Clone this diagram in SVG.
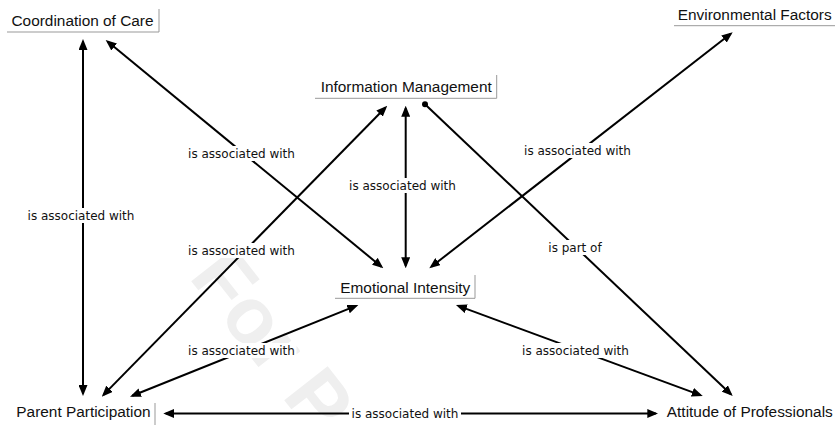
<svg xmlns="http://www.w3.org/2000/svg" width="835" height="425" viewBox="0 0 835 425">
<style>
.node text{font-family:"Liberation Sans",Arial,sans-serif;font-size:15.4px;fill:#111;text-anchor:middle}
.node path{fill:none;stroke:#999;stroke-width:1}
.edges line{stroke:#000;stroke-width:2;fill:none}
.lbl rect{fill:#fff}
.lbl text{font-family:"DejaVu Sans",Verdana,sans-serif;font-size:12px;fill:#111;text-anchor:middle}
.wm{font-family:"Liberation Sans",Arial,sans-serif;font-weight:bold;font-size:80px;fill:#efefef}
</style>
<defs>
<marker id="ah" viewBox="0 0 11 9" refX="8.5" refY="4.5" markerWidth="11" markerHeight="9" markerUnits="userSpaceOnUse" orient="auto-start-reverse"><path d="M0,0 L11,4.5 L0,9 z" fill="#000"/></marker>
<marker id="dot" viewBox="0 0 8 8" refX="4" refY="4" markerWidth="8" markerHeight="8" markerUnits="userSpaceOnUse"><circle cx="4" cy="4" r="3" fill="#000"/></marker>
</defs>
<rect width="835" height="425" fill="#fff"/>
<text class="wm" transform="translate(188,277) rotate(52)">For P</text>
<g class="edges">
<line x1="83" y1="41.5" x2="83" y2="393.5" marker-start="url(#ah)" marker-end="url(#ah)"/>
<line x1="405.7" y1="108.2" x2="405.7" y2="265.8" marker-start="url(#ah)" marker-end="url(#ah)"/>
<line x1="165.8" y1="413.5" x2="655.8" y2="413.5" marker-start="url(#ah)" marker-end="url(#ah)"/>
<line x1="107.6" y1="41.6" x2="381.4" y2="266.7" marker-start="url(#ah)" marker-end="url(#ah)"/>
<line x1="103.5" y1="394.9" x2="385.5" y2="107.5" marker-start="url(#ah)" marker-end="url(#ah)"/>
<line x1="132.3" y1="395.8" x2="356" y2="305.9" marker-start="url(#ah)" marker-end="url(#ah)"/>
<line x1="458.3" y1="305.9" x2="700.4" y2="395.1" marker-start="url(#ah)" marker-end="url(#ah)"/>
<line x1="425" y1="104.3" x2="730.9" y2="394.3" marker-start="url(#dot)" marker-end="url(#ah)"/>
<line x1="730.7" y1="33.8" x2="431.3" y2="266.8" marker-start="url(#ah)" marker-end="url(#ah)"/>
<g class="lbl">
<rect x="26" y="208" width="110" height="15"/><text x="81" y="219.5">is associated with</text>
<rect x="186.5" y="146" width="110" height="15"/><text x="241.5" y="157.5">is associated with</text>
<rect x="186.5" y="243" width="110" height="15"/><text x="241.5" y="254.5">is associated with</text>
<rect x="186.5" y="343" width="110" height="15"/><text x="241.5" y="354.5">is associated with</text>
<rect x="347.5" y="178" width="110" height="15"/><text x="402.5" y="189.5">is associated with</text>
<rect x="522.5" y="143" width="110" height="15"/><text x="577.5" y="154.5">is associated with</text>
<rect x="546" y="240" width="58" height="15"/><text x="575" y="251.5">is part of</text>
<rect x="520.5" y="343" width="110" height="15"/><text x="575.5" y="354.5">is associated with</text>
<rect x="349" y="406" width="112" height="15"/><text x="405" y="417.5">is associated with</text>
</g>
</g>
<g id="coordination-of-care" class="node"><path d="M7,32 H159 V9"/><text x="82.5" y="26">Coordination of Care</text></g>
<g id="information-management" class="node"><path d="M315,98.3 H496.7 V75"/><text x="406.2" y="91.7">Information Management</text></g>
<g id="environmental-factors" class="node"><path d="M674,25.7 H835"/><text x="754.7" y="20">Environmental Factors</text></g>
<g id="emotional-intensity" class="node"><path d="M335,298.3 H475 V275"/><text x="405.3" y="292.7">Emotional Intensity</text></g>
<g id="parent-participation" class="node"><path d="M155,425 V403"/><text x="83.5" y="416.7">Parent Participation</text></g>
<g id="attitude-of-professionals" class="node"><text x="749.8" y="416.7">Attitude of Professionals</text></g>
</svg>
